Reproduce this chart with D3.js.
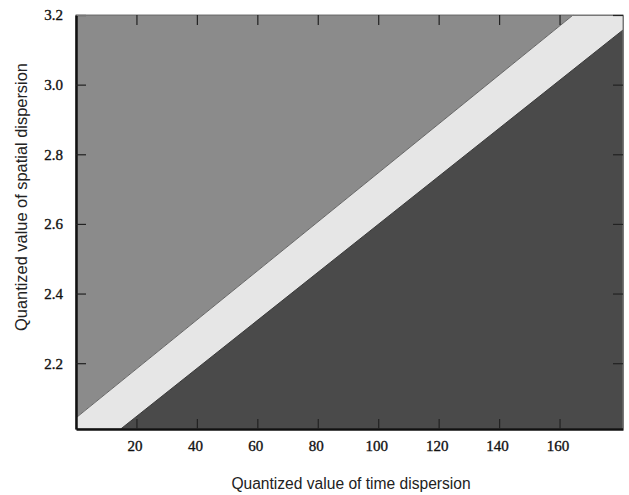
<!DOCTYPE html>
<html>
<head>
<meta charset="utf-8">
<script src="https://cdn.jsdelivr.net/npm/d3@7"></script>
<style>
  body { margin: 0; background: #fff; }
  .title { font-family: "Liberation Sans", Arial, sans-serif; fill: #222; }
</style>
</head>
<body>
<div id="graph"></div>
<script>
// axis ranges and ticks
var xDomain = [0, 181];
var yDomain = [2.011, 3.2];
var xTicks = [20, 40, 60, 80, 100, 120, 140, 160];
var yTicks = [2.2, 2.4, 2.6, 2.8, 3.0, 3.2];

// boundary lines between the three regions (x = time, y = spatial)
var upperLine = [[0, 2.043], [164.5, 3.2]];
var lowerLine = [[14.8, 2.011], [181, 3.157]];

var width = 629, height = 495;
var margin = {left: 76, right: 6, top: 15, bottom: 66};

var svg = d3.select("#graph").append("svg")
    .attr("width", width)
    .attr("height", height);

var x = d3.scaleLinear().domain(xDomain).range([margin.left, width - margin.right]);
var y = d3.scaleLinear().domain(yDomain).range([height - margin.bottom, margin.top]);

var line = d3.line().x(function(d) { return x(d[0]); }).y(function(d) { return y(d[1]); });

// regions built from the boundary lines and the domain corners
var topLeft = [[xDomain[0], yDomain[0]]].concat(upperLine, [[xDomain[0], yDomain[1]]]);
var band = upperLine.concat([[xDomain[1], yDomain[1]]], lowerLine.slice().reverse(), [[xDomain[0], yDomain[0]]]);
var bottomRight = lowerLine.concat([[xDomain[1], yDomain[0]]]);

var g = svg.append("g");
g.append("path").attr("d", line(topLeft) + "Z").attr("fill", "#8b8b8b");
g.append("path").attr("d", line(band) + "Z").attr("fill", "#e6e6e6");
g.append("path").attr("d", line(bottomRight) + "Z").attr("fill", "#4a4a4a");

g.append("path").attr("d", line(upperLine)).attr("fill", "none").attr("stroke", "#666").attr("stroke-width", 1);
g.append("path").attr("d", line(lowerLine)).attr("fill", "none").attr("stroke", "#3a3a3a").attr("stroke-width", 1);

// frame
svg.append("rect")
    .attr("x", x(xDomain[0])).attr("y", y(yDomain[1]))
    .attr("width", x(xDomain[1]) - x(xDomain[0]))
    .attr("height", y(yDomain[0]) - y(yDomain[1]))
    .attr("fill", "none").attr("stroke", "#777").attr("stroke-width", 1);

// axes with inward ticks
var bottomAxis = svg.append("g")
    .attr("transform", "translate(0," + y(yDomain[0]) + ")")
    .call(d3.axisBottom(x).tickValues(xTicks).tickSizeInner(-10).tickSizeOuter(0).tickPadding(14));
var leftAxis = svg.append("g")
    .attr("transform", "translate(" + x(xDomain[0]) + ",0)")
    .call(d3.axisLeft(y).tickValues(yTicks).tickFormat(d3.format(".1f")).tickSizeInner(-10).tickSizeOuter(0).tickPadding(13));
var topAxis = svg.append("g")
    .attr("transform", "translate(0," + y(yDomain[1]) + ")")
    .call(d3.axisTop(x).tickValues(xTicks).tickSizeInner(-10).tickSizeOuter(0).tickFormat(""));
var rightAxis = svg.append("g")
    .attr("transform", "translate(" + x(xDomain[1]) + ",0)")
    .call(d3.axisRight(y).tickValues(yTicks).tickSizeInner(-10).tickSizeOuter(0).tickFormat(""));

[bottomAxis, leftAxis].forEach(function(a) {
    a.attr("font-family", "'Liberation Serif', 'Times New Roman', serif").attr("font-size", 15);
    a.select(".domain").attr("stroke", "#111").attr("stroke-width", 2.5);
    a.selectAll(".tick line").attr("stroke", "#222").attr("stroke-width", 1.2);
    a.selectAll(".tick text").attr("fill", "#111").attr("stroke", "#111").attr("stroke-width", 0.35);
});
[topAxis, rightAxis].forEach(function(a) {
    a.select(".domain").attr("stroke", "#777").attr("stroke-width", 1);
    a.selectAll(".tick line").attr("stroke", "#222").attr("stroke-width", 1.2);
});
bottomAxis.selectAll(".tick text").attr("dy", "0.5em").attr("dx", "-2");

// titles
svg.append("text").attr("class", "title")
    .attr("x", 351).attr("y", 489)
    .attr("text-anchor", "middle")
    .style("font-size", "15.6px")
    .text("Quantized value of time dispersion");
svg.append("text").attr("class", "title")
    .attr("transform", "translate(27,197) rotate(-90)")
    .attr("text-anchor", "middle")
    .style("font-size", "16.4px")
    .text("Quantized value of spatial dispersion");
</script>
</body>
</html>
